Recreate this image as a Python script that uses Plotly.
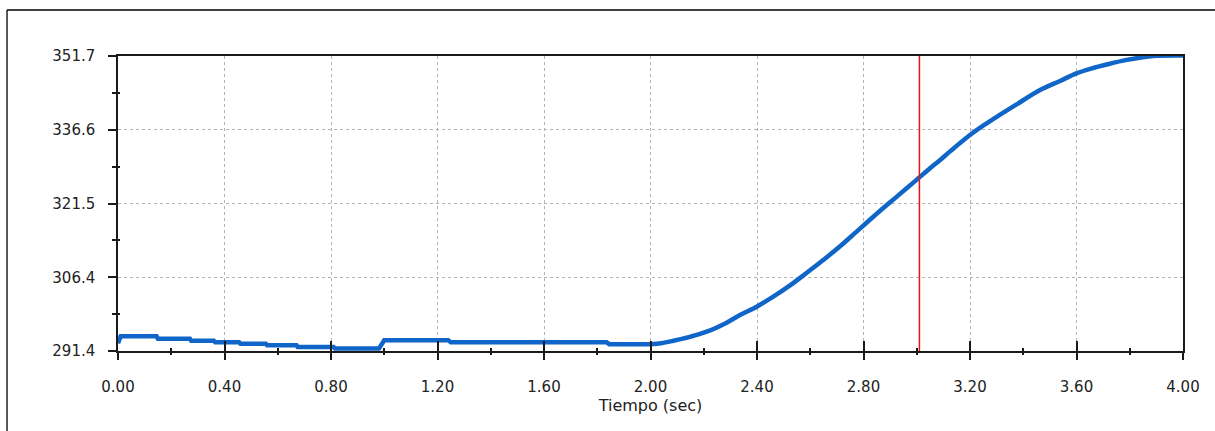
import plotly.graph_objects as go

# ---- data ----
# early, nearly flat part (small steps)
time_flat = [0.000, 0.010, 0.145, 0.150, 0.270, 0.275, 0.360, 0.365, 0.455, 0.460,
             0.555, 0.560, 0.670, 0.675, 0.810, 0.815, 0.980, 1.000, 1.240, 1.250,
             1.835, 1.845, 2.000]
temp_flat = [293.0, 294.4, 294.4, 293.9, 293.9, 293.5, 293.5, 293.2, 293.2, 292.9,
             292.9, 292.6, 292.6, 292.2, 292.2, 291.9, 291.9, 293.6, 293.6, 293.2,
             293.2, 292.8, 292.8]
# rising part
time_rise = [2.000, 2.040, 2.086, 2.148, 2.211, 2.286, 2.336, 2.399,
             2.461, 2.524, 2.587, 2.649, 2.712, 2.774, 2.837, 2.900, 2.962, 3.006,
             3.050, 3.087, 3.125, 3.200, 3.263, 3.313, 3.375, 3.463, 3.538, 3.600,
             3.663, 3.713, 3.788, 3.838, 3.888, 4.000]
temp_rise = [292.8, 293.0, 293.5, 294.3, 295.35, 297.2, 298.76, 300.46,
             302.5, 304.8, 307.4, 310.0, 312.8, 315.8, 318.85, 321.8, 324.65, 326.7,
             328.75, 330.4, 332.2, 335.55, 337.95, 339.7, 341.8, 344.75, 346.6, 348.15,
             349.25, 349.95, 350.9, 351.35, 351.7, 351.8]

cursor_t = 3.01

x_major = [0.0, 0.4, 0.8, 1.2, 1.6, 2.0, 2.4, 2.8, 3.2, 3.6, 4.0]
x_labels = ["0.00", "0.40", "0.80", "1.20", "1.60", "2.00", "2.40", "2.80", "3.20", "3.60", "4.00"]
x_minor = [0.2, 0.6, 1.0, 1.4, 1.8, 2.2, 2.6, 3.0, 3.4, 3.8]

y_major = [291.4, 306.475, 321.55, 336.625, 351.7]
y_labels = ["291.4", "306.4", "321.5", "336.6", "351.7"]
y_minor = [298.9375, 314.0125, 329.0875, 344.1625]

x_range = [0.0, 4.0]
y_range = [291.4, 351.7]
x_title = "Tiempo (sec)"

FONT = dict(family="DejaVu Sans", size=15, color="#222222")
TFONT = dict(family="DejaVu Sans", size=16, color="#222222")
AXC = "#1a1a1a"
GRID = "#b4b4b4"
LINE_BLUE = "#0f66c8"

fig = go.Figure()

fig.add_trace(go.Scatter(
    x=time_flat, y=temp_flat, mode="lines",
    line=dict(color=LINE_BLUE, width=4.5),
    showlegend=False, hoverinfo="skip",
))
fig.add_trace(go.Scatter(
    x=time_rise, y=temp_rise, mode="lines",
    line=dict(color=LINE_BLUE, width=4.5, shape="spline", smoothing=1.0),
    showlegend=False, hoverinfo="skip",
))

# helper trace so the overlay axes (inside tick halves) get drawn
fig.add_trace(go.Scatter(x=[None], y=[None], xaxis="x2", yaxis="y2",
                         mode="lines", showlegend=False, hoverinfo="skip"))

fig.add_shape(type="line", xref="x", yref="paper",
              x0=cursor_t, x1=cursor_t, y0=0, y1=1,
              line=dict(color="#e8141c", width=1.5), layer="above")

# outer frame (left and top edges visible)
fig.add_shape(type="line", xref="paper", yref="paper",
              x0=-0.1042, x1=-0.1042, y0=1.156, y1=-0.3,
              line=dict(color="#000000", width=1.3))
fig.add_shape(type="line", xref="paper", yref="paper",
              x0=-0.1042, x1=1.05, y0=1.156, y1=1.156,
              line=dict(color="#000000", width=1.3))

fig.update_layout(
    width=1215, height=431, autosize=False,
    margin=dict(l=118, r=32, t=56, b=80, pad=0),
    paper_bgcolor="white", plot_bgcolor="white",
    font=FONT,
    xaxis=dict(
        range=x_range, tickmode="array", tickvals=x_major, ticktext=x_labels,
        ticks="outside", ticklen=7, tickwidth=1.5, tickcolor=AXC,
        ticklabelstandoff=14,
        showgrid=True, gridcolor=GRID, griddash="dot", gridwidth=1,
        showline=True, linecolor=AXC, linewidth=1.5, mirror=True,
        zeroline=False,
        minor=dict(tickmode="array", tickvals=x_minor, ticks="outside",
                   ticklen=2, tickwidth=1.5, tickcolor=AXC, showgrid=False),
        title=dict(text=x_title, font=TFONT, standoff=2),
        tickfont=FONT,
    ),
    yaxis=dict(
        range=y_range, tickmode="array", tickvals=y_major, ticktext=y_labels,
        ticks="outside", ticklen=8, tickwidth=1.5, tickcolor=AXC,
        ticklabelstandoff=10,
        showgrid=True, gridcolor=GRID, griddash="dot", gridwidth=1,
        showline=True, linecolor=AXC, linewidth=1.5, mirror=True,
        zeroline=False,
        minor=dict(tickmode="array", tickvals=y_minor, ticks="outside",
                   ticklen=4, tickwidth=1.5, tickcolor=AXC, showgrid=False),
        tickfont=FONT,
    ),
    xaxis2=dict(
        range=x_range, overlaying="x", anchor="y2", side="bottom",
        tickmode="array", tickvals=x_major, ticks="inside", ticklen=10,
        tickwidth=1.5, tickcolor=AXC, showticklabels=False,
        showgrid=False, showline=False, zeroline=False,
        minor=dict(tickmode="array", tickvals=x_minor, ticks="inside",
                   ticklen=3, tickwidth=1.5, tickcolor=AXC, showgrid=False),
    ),
    yaxis2=dict(
        range=y_range, overlaying="y", anchor="x2", side="left",
        tickmode="array", tickvals=y_major, ticks="", showticklabels=False,
        showgrid=False, showline=False, zeroline=False,
        minor=dict(tickmode="array", tickvals=y_minor, ticks="inside",
                   ticklen=2, tickwidth=1.5, tickcolor=AXC, showgrid=False),
    ),
)

fig.write_html("out.html")
